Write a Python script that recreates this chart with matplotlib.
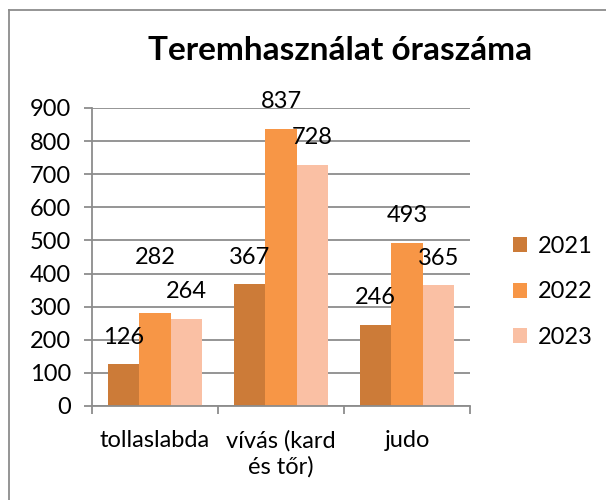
import matplotlib
matplotlib.use("Agg")
import matplotlib.pyplot as plt
from matplotlib.lines import Line2D
import numpy as np

categories = ["tollaslabda", "vívás (kard\nés tőr)", "judo"]
series_names = ["2021", "2022", "2023"]
v2021 = [126, 367, 246]
v2022 = [282, 837, 493]
v2023 = [264, 728, 365]
values = [v2021, v2022, v2023]
colors = ["#CC7B38", "#F79646", "#FAC0A4"]

plt.rcParams['font.family'] = ['Lato', 'DejaVu Sans']

fig = plt.figure(figsize=(6.06, 5.0), dpi=100)
ax = fig.add_axes([92/606, (500-406)/500, (470-92)/606, (406-108)/500])

FS = 17
x = np.arange(len(categories))
w = 0.25
for i, (vals, c) in enumerate(zip(values, colors)):
    pos = x + (i - 1) * w
    ax.bar(pos, vals, width=w, color=c, label=series_names[i], zorder=3, linewidth=0)
    for j, (p, v) in enumerate(zip(pos, vals)):
        off = 19.5
        if i == 1 and j == 0:
            off = 39.5
        ax.annotate(str(v), (p, v), xytext=(0, off), textcoords='offset points',
                    ha='center', va='center', fontsize=FS, color='black', zorder=5)

ax.set_xlim(-0.5, 2.5)
ax.set_ylim(0, 900)
ax.set_yticks(range(0, 901, 100))
ax.yaxis.grid(True, color='#8C8C8C', linewidth=1.3, zorder=0)
ax.set_axisbelow(True)
ax.set_xticks(x)
ax.set_xticklabels(categories, fontsize=FS, linespacing=1.3, va='top')
ax.set_xticks([-0.5, 0.5, 1.5, 2.5], minor=True)
ax.tick_params(axis='x', which='major', length=0, pad=17)
ax.tick_params(axis='x', which='minor', length=6, color='#8C8C8C', width=1.3, direction='out')
ax.tick_params(axis='y', length=6, color='#8C8C8C', width=1.3, labelsize=FS, pad=9)
for s in ['top', 'right']:
    ax.spines[s].set_visible(False)
for s in ['left', 'bottom']:
    ax.spines[s].set_color('#8C8C8C')
    ax.spines[s].set_linewidth(1.3)
ax.spines['bottom'].set_zorder(4)

fig.text(340/606, 1 - 50/500, "Teremhasználat óraszáma", ha='center', va='center',
         fontsize=24, fontweight='bold')

leg = ax.legend(loc='center left', bbox_to_anchor=(492/606, (500-292)/500),
                bbox_transform=fig.transFigure, frameon=False, fontsize=FS,
                handlelength=0.6, handleheight=0.6, handletextpad=0.45, labelspacing=1.05)

# chart border (left and top edges visible)
fig.add_artist(Line2D([9/606, 9/606], [0, 1 - 10/500], transform=fig.transFigure,
                      color='#8C8C8C', linewidth=1.3))
fig.add_artist(Line2D([9/606, 1], [1 - 10/500, 1 - 10/500], transform=fig.transFigure,
                      color='#8C8C8C', linewidth=1.3))

fig.savefig("out.png", dpi=100)
